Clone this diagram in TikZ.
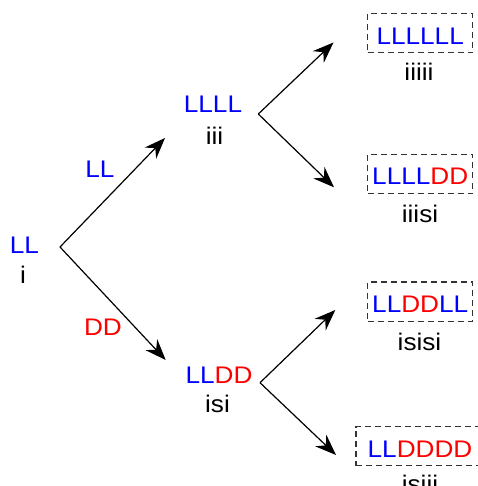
\documentclass[tikz,border=0pt]{standalone}
\usepackage{fontspec}
\setmainfont{Liberation Sans}[FakeStretch=1.09]
\usetikzlibrary{arrows.meta}
\definecolor{cb}{RGB}{0,0,255}
\definecolor{cr}{RGB}{255,0,0}
\begin{document}
\begin{tikzpicture}[x=1pt,y=-1pt,
 txt/.style={anchor=base,inner sep=0pt,font=\fontsize{24}{29}\selectfont},
 arr/.style={line width=1.2pt,-{Stealth[length=21pt,width=16pt,inset=7pt]}},
 dbox/.style={txt,draw=black!80,dash pattern=on 6pt off 4pt,line width=1.1pt,text height=30.7pt,text depth=8.5pt}]
\useasboundingbox (0,0) rectangle (477,486);
% left state
\node[txt] (sI) at (24.5,253) {\textcolor{cb}{LL}};
\node[txt] (nI) at (23,283) {i};
% middle states
\node[txt] (sIII) at (213,113) {\textcolor{cb}{LLLL}};
\node[txt] (nIII) at (214.5,145) {iii};
\node[txt] (sISI) at (219,383) {\textcolor{cb}{LL}\textcolor{cr}{DD}};
\node[txt] (nISI) at (217.5,412) {isi};
% edge labels
\node[txt] (eLL) at (100,178) {\textcolor{cb}{LL}};
\node[txt] (eDD) at (103,335) {\textcolor{cr}{DD}};
% boxes
\node[dbox,minimum width=105pt] (bA) at (420.2,44.3) {\textcolor{cb}{LLLLLL}};
\node[txt] (nA) at (419,81) {iiiii};
\node[dbox,minimum width=105pt] (bB) at (420.2,185) {\textcolor{cb}{LLLL}\textcolor{cr}{DD}};
\node[txt] (nB) at (420,222.7) {iiisi};
\node[dbox,minimum width=105pt] (bC) at (420.2,312.7) {\textcolor{cb}{LL}\textcolor{cr}{DD}\textcolor{cb}{LL}};
\node[txt] (nC) at (419.5,350) {isisi};
\node[dbox,minimum width=128pt] (bD) at (420,457.3) {\textcolor{cb}{LL}\textcolor{cr}{DDDD}};
\node[txt] (nD) at (420,492) {isiii};
% branch points and arrow ends
\coordinate (o1) at (60,247);
\coordinate (o2) at (258.3,114);
\coordinate (o3) at (260,382.7);
\coordinate (t1) at (165,138);
\coordinate (t2) at (165.7,360);
\coordinate (t3) at (333.5,42.5);
\coordinate (t4) at (334,187.3);
\coordinate (t5) at (335.3,310);
\coordinate (t6) at (336,455);
\draw[arr] (o1) -- (t1);
\draw[arr] (o1) -- (t2);
\draw[arr] (o2) -- (t3);
\draw[arr] (o2) -- (t4);
\draw[arr] (o3) -- (t5);
\draw[arr] (o3) -- (t6);
\end{tikzpicture}
\end{document}
